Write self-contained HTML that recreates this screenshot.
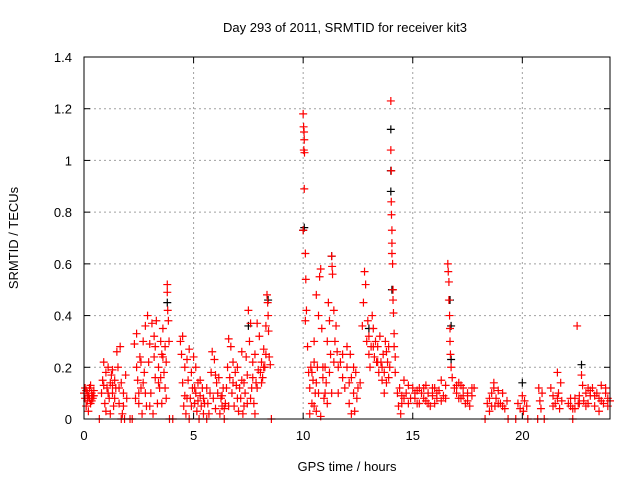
<!DOCTYPE html>
<html><head><meta charset="utf-8"><style>
body{margin:0;background:#fff;}
svg{display:block;font-family:"Liberation Sans",sans-serif;}
</style></head><body>
<svg id="chart" width="640" height="480">
<text x="345" y="32" text-anchor="middle" font-size="13">Day 293 of 2011, SRMTID for receiver kit3</text>
<text x="347" y="471" text-anchor="middle" font-size="13">GPS time / hours</text>
<text transform="translate(18,238) rotate(-90)" text-anchor="middle" font-size="13">SRMTID / TECUs</text>
<g id="grid"></g><g id="black"></g><g id="red"></g><g id="axes"></g>
</svg>
<script>
const xTicks=[0,5,10,15,20];
const yTicks=[0,0.2,0.4,0.6,0.8,1,1.2,1.4];
const yTickLabels=["0","0.2","0.4","0.6","0.8","1","1.2","1.4"];
const blackPts=[[10.0,0.73],[10.05,0.74],[14.0,1.12],[14.0,0.96],[14.0,0.88],[14.05,0.5],[16.7,0.46],[16.75,0.36],[16.75,0.23],[22.7,0.21],[20.0,0.14],[11.3,0.63],[13.0,0.35],[7.5,0.36],[3.8,0.45],[8.4,0.46]];
const redPts=[
[0,0.1],[0.05,0.08],[0.1,0.11],[0.15,0.07],[0.2,0.09],[0.25,0.12],[0.3,0.06],[0.35,0.1],[0.4,0.08],[0.45,0.11],[0.1,0.05],[0.3,0.13],[0.2,0.03],[0.4,0.09],
[0.7,0.0],[0.8,0.1],[0.85,0.15],[0.9,0.22],[0.95,0.06],[1.0,0.18],[1.05,0.12],[1.1,0.2],[1.15,0.08],[1.2,0.14],[1.25,0.17],[1.3,0.1],[1.35,0.05],[1.4,0.15],[1.45,0.12],[1.0,0.03],[1.2,0.02],[1.3,0.19],
[1.5,0.26],[1.55,0.2],[1.6,0.06],[1.65,0.28],[1.7,0.14],[1.75,0.02],[1.8,0.1],[1.85,0.0],[1.9,0.17],[1.95,0.08],[1.6,0.12],[1.7,0.0],
[2.1,0.0],[2.2,0.0],[2.3,0.29],[2.35,0.08],[2.4,0.33],[2.45,0.15],[2.5,0.06],[2.55,0.24],[2.6,0.12],[2.65,0.02],[2.7,0.3],[2.75,0.18],[2.8,0.36],[2.85,0.05],[2.9,0.4],[2.95,0.22],[2.5,0.1],[2.7,0.14],
[3.0,0.29],[3.05,0.1],[3.1,0.37],[3.15,0.02],[3.2,0.24],[3.25,0.16],[3.3,0.38],[3.35,0.06],[3.4,0.2],[3.45,0.12],[3.5,0.3],[3.55,0.25],[3.6,0.35],[3.65,0.18],[3.7,0.28],[3.75,0.08],[3.8,0.52],[3.8,0.49],[3.82,0.42],[3.85,0.38],[3.88,0.3],[3.75,0.22],[3.9,0.0],[4.05,0.0],[3.4,0.14],
[4.4,0.3],[4.45,0.25],[4.5,0.32],[4.55,0.05],[4.6,0.2],[4.65,0.02],[4.7,0.23],[4.75,0.15],[4.8,0.27],[4.85,0.08],[4.9,0.18],[4.95,0.12],[4.6,0.09],[4.8,0.0],
[5.0,0.24],[5.05,0.06],[5.1,0.2],[5.15,0.03],[5.2,0.14],[5.25,0.0],[5.3,0.09],[5.35,0.05],[5.4,0.12],[5.45,0.02],[5.1,0.1],[5.3,0.15],
[5.5,0.06],[5.6,0.12],[5.7,0.02],[5.8,0.18],[5.85,0.26],[5.9,0.08],[5.95,0.23],[6.0,0.04],[6.05,0.14],[6.1,0.1],[6.2,0.02],[6.25,0.08],[6.3,0.05],[6.35,0.12],[6.4,0.0],[6.45,0.06],[5.6,0.0],[6.0,0.17],
[6.5,0.12],[6.55,0.2],[6.6,0.31],[6.65,0.16],[6.7,0.28],[6.75,0.1],[6.8,0.22],[6.85,0.05],[6.9,0.18],[6.95,0.13],[7.0,0.2],[7.05,0.03],[7.1,0.12],[7.15,0.08],[7.2,0.26],[7.25,0.02],[7.3,0.14],[7.35,0.1],[7.4,0.24],[7.45,0.06],
[7.5,0.42],[7.55,0.3],[7.6,0.37],[7.65,0.12],[7.7,0.16],[7.75,0.06],[7.8,0.25],[7.85,0.14],[7.9,0.37],[7.95,0.19],[7.6,0.08],[7.8,0.02],
[8.0,0.32],[8.05,0.18],[8.1,0.22],[8.15,0.16],[8.2,0.27],[8.25,0.2],[8.3,0.36],[8.35,0.48],[8.38,0.45],[8.4,0.4],[8.42,0.34],[8.45,0.24],[8.5,0.21],[8.55,0.0],
[10.0,1.18],[10.02,1.13],[10.04,1.11],[10.05,1.08],[10.03,1.04],[10.06,1.03],[10.05,0.89],[10.0,0.73],[10.1,0.64],[10.12,0.54],[10.15,0.42],[10.1,0.38],[10.2,0.28],
[10.25,0.18],[10.3,0.12],[10.35,0.2],[10.4,0.06],[10.45,0.15],[10.5,0.3],[10.55,0.1],[10.6,0.48],[10.65,0.2],[10.7,0.4],[10.75,0.55],[10.8,0.58],[10.85,0.35],[10.9,0.16],[10.95,0.08],[10.3,0.02],[10.6,0.03],[10.8,0.01],[10.5,0.22],
[11.0,0.2],[11.05,0.14],[11.1,0.3],[11.15,0.45],[11.2,0.38],[11.25,0.25],[11.3,0.63],[11.32,0.59],[11.34,0.56],[11.4,0.42],[11.45,0.3],[11.5,0.36],[11.55,0.26],[11.6,0.2],[11.1,0.06],[11.3,0.1],
[11.7,0.22],[11.8,0.16],[11.9,0.12],[12.0,0.2],[12.1,0.06],[12.15,0.25],[12.2,0.16],[12.3,0.1],[12.35,0.03],[12.4,0.18],[12.45,0.08],[12.2,0.02],[12.0,0.28],
[12.6,0.14],[12.7,0.36],[12.75,0.45],[12.8,0.57],[12.85,0.52],[12.9,0.3],[12.95,0.38],[13.0,0.32],[13.05,0.2],[13.1,0.28],[13.15,0.4],[13.2,0.35],[13.25,0.24],[13.3,0.3],[13.35,0.22],[13.4,0.28],[13.45,0.18],[13.5,0.32],
[13.55,0.22],[13.6,0.15],[13.65,0.25],[13.7,0.18],[13.75,0.3],[13.8,0.14],[13.85,0.22],[13.9,0.28],[13.95,0.2],[13.7,0.1],
[14.0,1.23],[14.0,1.04],[14.02,0.96],[14.02,0.84],[14.03,0.79],[14.05,0.73],[14.05,0.68],[14.05,0.64],[14.08,0.6],[14.1,0.5],[14.1,0.46],[14.12,0.41],[14.15,0.33],[14.15,0.28],[14.2,0.24],[14.2,0.18],
[14.3,0.1],[14.35,0.05],[14.4,0.12],[14.45,0.02],[14.5,0.09],[14.6,0.15],[14.7,0.1],[14.8,0.13],[14.9,0.08],[14.5,0.06],
[15.0,0.12],[15.1,0.08],[15.2,0.11],[15.3,0.06],[15.4,0.1],[15.5,0.12],[15.6,0.07],[15.7,0.1],[15.8,0.05],[15.9,0.09],[16.0,0.12],[16.1,0.08],[16.2,0.11],[16.3,0.15],[16.4,0.09],[16.5,0.13],[15.2,0.06],[15.6,0.13],[16.0,0.06],
[16.6,0.6],[16.62,0.57],[16.65,0.53],[16.65,0.46],[16.68,0.4],[16.7,0.35],[16.7,0.3],[16.72,0.25],[16.75,0.2],[16.8,0.16],
[16.9,0.12],[17.0,0.1],[17.1,0.14],[17.2,0.08],[17.3,0.12],[17.4,0.06],[17.5,0.1],[17.6,0.05],[17.7,0.09],[17.8,0.12],[17.2,0.13],
[18.3,0.0],[18.4,0.06],[18.5,0.03],[18.6,0.1],[18.7,0.12],[18.75,0.05],[18.8,0.08],[18.9,0.11],[19.0,0.06],[19.1,0.1],[19.2,0.04],[19.3,0.07],[19.35,0.0],[18.7,0.14],
[19.7,0.0],[19.8,0.06],[19.9,0.04],[20.0,0.09],[20.05,0.03],[20.1,0.07],[20.2,0.05],[20.25,0.0],
[20.7,0.0],[20.75,0.12],[20.8,0.07],[20.85,0.04],[20.9,0.1],[21.0,0.0],[21.3,0.12],[21.4,0.09],[21.5,0.06],[21.6,0.18],[21.65,0.1],[21.7,0.04],[21.75,0.14],[21.8,0.07],
[22.1,0.06],[22.2,0.05],[22.3,0.04],[22.4,0.08],[22.5,0.36],[22.55,0.06],[22.6,0.09],[22.7,0.17],[22.75,0.13],[22.8,0.07],[22.9,0.1],[23.0,0.06],[23.1,0.09],[23.2,0.12],[23.3,0.05],[23.4,0.1],[23.5,0.08],[23.6,0.13],[23.7,0.06],[23.8,0.1],[23.9,0.05],[24.0,0.07],[22.3,0.0],[23.5,0.03],[23.0,0.12]
];
const redExtra=[
[0.05,0.12],[0.15,0.1],[0.25,0.08],[0.35,0.07],[0.45,0.09],[0.9,0.13],[1.1,0.1],[1.3,0.13],[1.4,0.08],[1.8,0.05],
[2.4,0.2],[2.6,0.22],[2.8,0.1],[3.0,0.05],[3.2,0.32],[3.5,0.16],[3.6,0.24],[3.7,0.12],[3.55,0.06],[3.25,0.28],
[4.5,0.14],[4.7,0.08],[4.9,0.05],[5.05,0.12],[5.2,0.07],[5.45,0.08],[5.65,0.06],[5.75,0.1],[6.15,0.16],[6.3,0.09],[6.4,0.04],
[6.6,0.05],[6.8,0.14],[7.0,0.08],[7.2,0.15],[7.3,0.05],[7.45,0.17],[7.7,0.22],[7.9,0.12],[8.1,0.14],[8.2,0.2],[8.3,0.25],
[10.4,0.18],[10.5,0.05],[10.6,0.14],[10.7,0.1],[10.9,0.2],[11.0,0.1],[11.2,0.18],[11.4,0.22],[11.6,0.1],[11.8,0.25],[12.1,0.14],[12.3,0.2],[12.5,0.12],
[13.0,0.25],[13.2,0.28],[13.4,0.22],[13.6,0.2],[13.8,0.26],[13.9,0.16],
[14.6,0.08],[14.8,0.06],[15.1,0.1],[15.3,0.12],[15.5,0.08],[15.7,0.06],[15.9,0.12],[16.1,0.1],[16.3,0.07],[16.5,0.08],
[17.0,0.13],[17.1,0.08],[17.3,0.09],[17.5,0.07],[17.7,0.12],[18.5,0.08],[18.6,0.05],[18.9,0.06],[19.1,0.05],
[21.4,0.05],[21.6,0.08],[22.2,0.08],[22.4,0.04],[22.6,0.06],[22.9,0.05],[23.1,0.11],[23.3,0.09],[23.6,0.07],[23.8,0.12],[23.9,0.08]
];
const X0=84,X1=610,Y0=419,Y1=57;
function sx(t){return X0+(t/24)*(X1-X0);}
function sy(v){return Y0-(v/1.4)*(Y0-Y1);}
const NS="http://www.w3.org/2000/svg";
function mk(tag,attrs,parent){const e=document.createElementNS(NS,tag);for(const k in attrs)e.setAttribute(k,attrs[k]);parent.appendChild(e);return e;}
const grid=document.getElementById('grid'),axes=document.getElementById('axes');
xTicks.forEach((t,i)=>{
  if(t>0){const g=mk('line',{x1:sx(t),x2:sx(t),y1:Y0,y2:Y1,stroke:'#a0a0a0','stroke-dasharray':'2,3','stroke-width':1},grid);
  
  }
  const a=mk('line',{x1:sx(t),x2:sx(t),y1:Y0,y2:Y0-6,stroke:'#000'},axes);
  
  
  const b=mk('line',{x1:sx(t),x2:sx(t),y1:Y1,y2:Y1+6,stroke:'#000'},axes);
  
  
  const l=mk('text',{x:sx(t),y:Y0+21,'text-anchor':'middle','font-size':13},axes);
  l.textContent=String(t);
  
  
});
yTicks.forEach((v,i)=>{
  if(v>0&&v<1.4){const g=mk('line',{x1:X0,x2:X1,y1:sy(v),y2:sy(v),stroke:'#a0a0a0','stroke-dasharray':'2,3','stroke-width':1},grid);
  
  }
  const a=mk('line',{x1:X0,x2:X0+6,y1:sy(v),y2:sy(v),stroke:'#000'},axes);
  
  
  const b=mk('line',{x1:X1,x2:X1-6,y1:sy(v),y2:sy(v),stroke:'#000'},axes);
  
  
  const l=mk('text',{x:X0-12,y:sy(v)+5,'text-anchor':'end','font-size':13},axes);
  l.textContent=yTickLabels[i];
  
  
});
const fr=mk('rect',{x:X0,y:Y1,width:X1-X0,height:Y0-Y1,fill:'none',stroke:'#000'},axes);


function plus(p,col,g,name){
  const x=sx(p[0]),y=sy(p[1]);
  const e=mk('path',{d:`M${x-4},${y}h8M${x},${y-4}v8`,stroke:col,'stroke-width':1.2,fill:'none'},g);
  
  
}
const gb=document.getElementById('black'),gr=document.getElementById('red');
blackPts.forEach(p=>plus(p,'#000',gb,'black-point'));
redPts.forEach(p=>plus(p,'#ff0000',gr,'red-point'));
redExtra.forEach(p=>plus(p,'#ff0000',gr,'red-point'));
</script>
</body></html>
